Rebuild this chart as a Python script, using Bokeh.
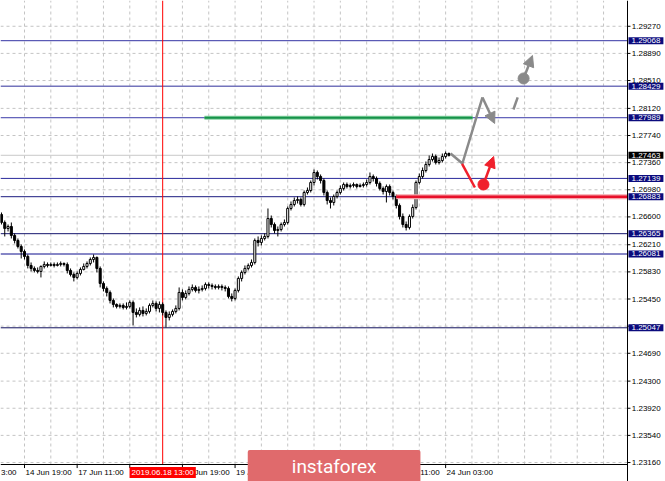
from bokeh.plotting import figure
from bokeh.models import Range1d, Label, Arrow, NormalHead
from bokeh.core.properties import value
from bokeh.embed import file_html
from bokeh.resources import INLINE

# ---------------- data ----------------
first_open = 1.26634
close = [1.26522, 1.26438, 1.26466, 1.26340, 1.26270, 1.26186, 1.26116, 1.26046, 1.25920, 1.25878,
         1.25850, 1.25836, 1.25906, 1.25934, 1.25920, 1.25934, 1.25920, 1.25934, 1.25948, 1.25934,
         1.25850, 1.25794, 1.25752, 1.25808, 1.25864, 1.25906, 1.25948, 1.26004, 1.26032, 1.25878,
         1.25668, 1.25598, 1.25542, 1.25430, 1.25374, 1.25346, 1.25360, 1.25332, 1.25346, 1.25402,
         1.25262, 1.25234, 1.25290, 1.25248, 1.25276, 1.25360, 1.25388, 1.25318, 1.25374, 1.25262,
         1.25192, 1.25234, 1.25276, 1.25318, 1.25542, 1.25472, 1.25528, 1.25584, 1.25612, 1.25570,
         1.25584, 1.25598, 1.25654, 1.25640, 1.25626, 1.25612, 1.25626, 1.25612, 1.25598, 1.25486,
         1.25458, 1.25570, 1.25738, 1.25822, 1.25878, 1.25920, 1.25962, 1.26270, 1.26242, 1.26298,
         1.26326, 1.26578, 1.26494, 1.26410, 1.26424, 1.26494, 1.26522, 1.26718, 1.26774, 1.26830,
         1.26844, 1.26774, 1.26942, 1.26970, 1.27082, 1.27222, 1.27166, 1.27110, 1.26942, 1.26830,
         1.26802, 1.26886, 1.26942, 1.26998, 1.27054, 1.27026, 1.27040, 1.27054, 1.27026, 1.27040,
         1.27054, 1.27082, 1.27166, 1.27138, 1.27068, 1.26998, 1.26956, 1.27026, 1.26942, 1.26886,
         1.26760, 1.26606, 1.26494, 1.26452, 1.26606, 1.26732, 1.27082, 1.27166, 1.27250, 1.27334,
         1.27404, 1.27446, 1.27362, 1.27390, 1.27446, 1.27488, 1.27463]
high = [1.26662, 1.26550, 1.26494, 1.26522, 1.26368, 1.26298, 1.26214, 1.26144, 1.26074, 1.25962,
        1.25906, 1.25892, 1.25920, 1.25976, 1.25962, 1.25962, 1.25962, 1.25962, 1.25976, 1.25962,
        1.25962, 1.25878, 1.25822, 1.25836, 1.25892, 1.25948, 1.25976, 1.26032, 1.26074, 1.26046,
        1.25906, 1.25696, 1.25626, 1.25570, 1.25458, 1.25388, 1.25388, 1.25388, 1.25402, 1.25430,
        1.25430, 1.25318, 1.25332, 1.25346, 1.25318, 1.25388, 1.25430, 1.25416, 1.25416, 1.25402,
        1.25290, 1.25276, 1.25304, 1.25360, 1.25612, 1.25584, 1.25570, 1.25626, 1.25654, 1.25640,
        1.25626, 1.25640, 1.25682, 1.25682, 1.25668, 1.25654, 1.25654, 1.25654, 1.25640, 1.25626,
        1.25528, 1.25598, 1.25766, 1.25850, 1.25920, 1.25948, 1.26004, 1.26298, 1.26326, 1.26340,
        1.26368, 1.26718, 1.26620, 1.26522, 1.26466, 1.26522, 1.26564, 1.26746, 1.26816, 1.26872,
        1.26886, 1.26872, 1.26970, 1.27012, 1.27110, 1.27264, 1.27250, 1.27194, 1.27138, 1.26970,
        1.26872, 1.26914, 1.26970, 1.27040, 1.27082, 1.27082, 1.27068, 1.27082, 1.27068, 1.27068,
        1.27082, 1.27124, 1.27222, 1.27194, 1.27166, 1.27096, 1.27026, 1.27054, 1.27054, 1.26970,
        1.26914, 1.26788, 1.26648, 1.26536, 1.26634, 1.26774, 1.27110, 1.27208, 1.27292, 1.27376,
        1.27460, 1.27488, 1.27474, 1.27432, 1.27488, 1.27516, 1.27502]
low = [1.26494, 1.26326, 1.26396, 1.26298, 1.26228, 1.26158, 1.26018, 1.26004, 1.25878, 1.25836,
       1.25822, 1.25808, 1.25752, 1.25878, 1.25892, 1.25906, 1.25892, 1.25906, 1.25906, 1.25906,
       1.25808, 1.25766, 1.25696, 1.25724, 1.25780, 1.25850, 1.25878, 1.25920, 1.25962, 1.25822,
       1.25612, 1.25556, 1.25486, 1.25388, 1.25332, 1.25318, 1.25318, 1.25304, 1.25304, 1.25318,
       1.25080, 1.25192, 1.25206, 1.25206, 1.25220, 1.25248, 1.25332, 1.25276, 1.25262, 1.25220,
       1.25052, 1.25150, 1.25206, 1.25248, 1.25290, 1.25430, 1.25444, 1.25500, 1.25556, 1.25542,
       1.25528, 1.25556, 1.25570, 1.25598, 1.25584, 1.25584, 1.25584, 1.25570, 1.25556, 1.25458,
       1.25416, 1.25430, 1.25542, 1.25696, 1.25794, 1.25850, 1.25892, 1.25934, 1.26186, 1.26200,
       1.26270, 1.26298, 1.26452, 1.26368, 1.26326, 1.26396, 1.26466, 1.26494, 1.26690, 1.26746,
       1.26788, 1.26746, 1.26746, 1.26914, 1.26942, 1.27040, 1.27124, 1.27068, 1.26900, 1.26774,
       1.26718, 1.26760, 1.26858, 1.26914, 1.26970, 1.26998, 1.26998, 1.27012, 1.26998, 1.27012,
       1.27012, 1.27026, 1.27054, 1.27096, 1.27026, 1.26970, 1.26914, 1.26802, 1.26900, 1.26844,
       1.26718, 1.26564, 1.26452, 1.26410, 1.26424, 1.26578, 1.26704, 1.27054, 1.27138, 1.27222,
       1.27306, 1.27376, 1.27334, 1.27334, 1.27362, 1.27418, 1.27446]
bars = list(range(len(close)))
open_ = [first_open] + close[:-1]

y_ticks = [1.29270, 1.28890, 1.28510, 1.28120, 1.27740, 1.27360, 1.26980, 1.26600, 1.26210,
           1.25830, 1.25450, 1.25070, 1.24690, 1.24300, 1.23920, 1.23540, 1.23160]
y_tick_labels = ["1.29270", "1.28890", "1.28510", "1.28120", "1.27740", "1.27360", "1.26980",
                 "1.26600", "1.26210", "1.25830", "1.25450", "1.25070", "1.24690", "1.24300",
                 "1.23920", "1.23540", "1.23160"]

# the first time label is only partly inside the window in the reference ("...3:00")
edge_time_label = "3:00"
time_bars = [7, 23, 39, 55, 71, 87, 103, 119, 135]
time_labels = ["14 Jun 19:00", "17 Jun 11:00", "18 Jun 03:00", "18 Jun 19:00",
               "19 Jun 11:00", "20 Jun 03:00", "20 Jun 19:00", "21 Jun 11:00", "24 Jun 03:00"]
grid_bars = [7, 15, 23, 31, 39, 47, 55, 63, 71, 79, 87, 95, 103, 111, 119, 127, 135,
             143, 151, 159, 167, 175, 183]

levels = [1.29068, 1.28429, 1.27989, 1.27139, 1.26883, 1.26365, 1.26081, 1.25047]
level_labels = ["1.29068", "1.28429", "1.27989", "1.27139", "1.26883", "1.26365", "1.26081", "1.25047"]
current_price = 1.27463
current_label = "1.27463"

crosshair_bar = 49
crosshair_label = "2019.06.18 13:00"

green_level = 1.27989
green_from, green_to = 61.7, 143.2
red_level = 1.26883
red_from = 120.0

gray_path_x = [136.5, 140.1, 146.2]
gray_path_y = [1.27488, 1.27348, 1.28273]
gray_arrow_end = (149.9, 1.27909)
red_path_x = [140.0, 143.9]
red_path_y = [1.27344, 1.27012]
red_dot = (146.5, 1.27054)
red_arrow_end = (149.6, 1.27446)
gray_dash_x = [155.6, 156.9]
gray_dash_y = [1.28104, 1.28273]
gray_dot = (158.7, 1.28539)
gray_arrow2_end = (161.4, 1.28861)

# ---------------- layout constants ----------------
X_START, X_END = -0.295, 201.83          # whole canvas, in bar units
Y_START, Y_END = 1.22894, 1.29631        # whole canvas, in price units
CHART_X1 = 190.28                        # right edge of price pane (price axis line)
CHART_Y0 = 1.23132                       # bottom edge of price pane (time axis line)
FONT = "Liberation Sans"

p = figure(width=665, height=481, x_range=Range1d(X_START, X_END), y_range=Range1d(Y_START, Y_END),
           x_axis_location=None, y_axis_location=None, output_backend="svg", toolbar_location=None,
           min_border=0)
p.outline_line_color = None
p.background_fill_color = "white"
p.border_fill_color = "white"
p.grid.visible = False

# dashed grid inside the price pane
p.segment(x0=grid_bars, y0=[CHART_Y0] * len(grid_bars), x1=grid_bars, y1=[Y_END] * len(grid_bars),
          line_color="#c4c4c4", line_dash="3 3", line_width=1)
p.segment(x0=[X_START] * len(y_ticks), y0=y_ticks, x1=[CHART_X1] * len(y_ticks), y1=y_ticks,
          line_color="#c4c4c4", line_dash="3 3", line_width=1)

# current price line and level lines
p.segment(x0=[X_START], y0=[current_price], x1=[CHART_X1], y1=[current_price],
          line_color="#c8c8c8", line_width=1)
level_line_colors = ["#3434a4", "#7474bc", "#3a3aa8", "#2a2a9c", "#1c1c80", "#16166e", "#8686c6", "#12125e"]
level_line_widths = [1, 1.5, 1, 1, 1, 1, 2, 1]
p.segment(x0=[X_START] * len(levels), y0=levels, x1=[CHART_X1] * len(levels), y1=levels,
          line_color=level_line_colors, line_width=level_line_widths)

# crosshair vertical
p.segment(x0=[crosshair_bar], y0=[CHART_Y0], x1=[crosshair_bar], y1=[Y_END],
          line_color="#ff0000", line_width=1)

# candles
inc = [i for i in bars if close[i] >= open_[i]]
dec = [i for i in bars if close[i] < open_[i]]
p.segment(x0=bars, y0=low, x1=bars, y1=high, line_color="black", line_width=1)
p.vbar(x=inc, width=0.62, top=[close[i] for i in inc], bottom=[open_[i] for i in inc],
       fill_color="white", line_color="black", line_width=1)
p.vbar(x=dec, width=0.62, top=[open_[i] for i in dec], bottom=[close[i] for i in dec],
       fill_color="black", line_color="black", line_width=1)

# analyst drawings
p.segment(x0=[green_from], y0=[green_level], x1=[green_to], y1=[green_level],
          line_color="#86d3a2", line_width=4)
p.segment(x0=[green_from], y0=[green_level], x1=[green_to], y1=[green_level],
          line_color="#17924a", line_width=2)
p.segment(x0=[red_from], y0=[red_level], x1=[CHART_X1], y1=[red_level],
          line_color="#f5a3a8", line_width=5)
p.segment(x0=[red_from], y0=[red_level], x1=[CHART_X1], y1=[red_level],
          line_color="#e8102a", line_width=2.5)

GRAY = "#8a8a8a"
RED = "#f0202c"
p.line(gray_path_x, gray_path_y, line_color=GRAY, line_width=2.5)
p.add_layout(Arrow(end=NormalHead(size=11, fill_color=GRAY, line_color=GRAY),
                   x_start=gray_path_x[-1], y_start=gray_path_y[-1],
                   x_end=gray_arrow_end[0], y_end=gray_arrow_end[1],
                   line_color=GRAY, line_width=2.5))
p.line(red_path_x, red_path_y, line_color=RED, line_width=2.5)
p.scatter([red_dot[0]], [red_dot[1]], size=11, fill_color=RED, line_color=RED)
p.add_layout(Arrow(end=NormalHead(size=11, fill_color=RED, line_color=RED),
                   x_start=red_dot[0], y_start=red_dot[1],
                   x_end=red_arrow_end[0], y_end=red_arrow_end[1],
                   line_color=RED, line_width=2.5))
p.line(gray_dash_x, gray_dash_y, line_color=GRAY, line_width=2.5)
p.scatter([gray_dot[0]], [gray_dot[1]], size=11, fill_color=GRAY, line_color=GRAY)
p.add_layout(Arrow(end=NormalHead(size=11, fill_color=GRAY, line_color=GRAY),
                   x_start=gray_dot[0], y_start=gray_dot[1],
                   x_end=gray_arrow2_end[0], y_end=gray_arrow2_end[1],
                   line_color=GRAY, line_width=2.5))

# price axis (right): line, ticks, labels
p.segment(x0=[CHART_X1], y0=[Y_START], x1=[CHART_X1], y1=[Y_END], line_color="black", line_width=1)
p.segment(x0=[CHART_X1] * len(y_ticks), y0=y_ticks, x1=[CHART_X1 + 0.9] * len(y_ticks), y1=y_ticks,
          line_color="black", line_width=1)
p.text(x=[CHART_X1 + 1.3] * len(y_ticks), y=y_ticks, text=y_tick_labels,
       text_font=value(FONT), text_font_size="8px", text_color="black",
       text_align="left", text_baseline="middle")

# time axis (bottom): line, ticks, labels
p.segment(x0=[X_START], y0=[CHART_Y0], x1=[CHART_X1], y1=[CHART_Y0], line_color="black", line_width=1)
p.segment(x0=time_bars, y0=[CHART_Y0] * len(time_bars), x1=time_bars,
          y1=[CHART_Y0 - 0.0005] * len(time_bars), line_color="black", line_width=1)
TIME_LABEL_Y = 1.23020
p.text(x=[b + 0.3 for b in time_bars], y=[TIME_LABEL_Y] * len(time_bars), text=time_labels,
       text_font=value(FONT), text_font_size="8px", text_color="black",
       text_align="left", text_baseline="middle")
p.text(x=[X_START + 0.15], y=[TIME_LABEL_Y], text=[edge_time_label],
       text_font=value(FONT), text_font_size="8px", text_color="black",
       text_align="left", text_baseline="middle")

# price boxes on the price axis
BOX_X = CHART_X1 + 0.3
for lv, s in zip(levels, level_labels):
    p.add_layout(Label(x=BOX_X, y=lv, text=s,
                       text_font=FONT, text_font_size="8px", text_color="white",
                       text_align="left", text_baseline="middle",
                       background_fill_color="#0b0b7d", padding=(3, 1)))
p.add_layout(Label(x=BOX_X, y=current_price, text=current_label,
                   text_font=FONT, text_font_size="8px", text_color="white",
                   text_align="left", text_baseline="middle",
                   background_fill_color="black", padding=(3, 1)))

# crosshair time box
p.add_layout(Label(x=crosshair_bar, y=TIME_LABEL_Y, text=crosshair_label,
                   text_font=FONT, text_font_size="8px", text_color="white",
                   text_align="center", text_baseline="middle",
                   background_fill_color="#ff0000", padding=(2, 1)))

# watermark
p.add_layout(Label(x=101.1, y=1.23104, text="instaforex",
                   text_font="Roboto", text_font_size="19px", text_color="white",
                   text_align="center", text_baseline="middle",
                   background_fill_color="#e06a6c", padding=(44, 5), border_radius=2))

open("out.html", "w").write(file_html(p, INLINE))
